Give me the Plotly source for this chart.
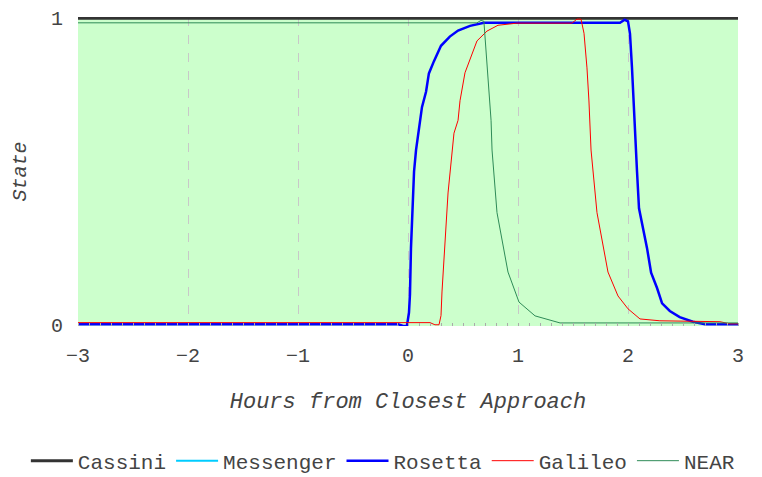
import plotly.graph_objects as go

# Data (hours from closest approach, state)
cassini_x = [-3, 3]
cassini_y = [1.0, 1.0]

messenger_x = [-3, 3]
messenger_y = [-0.008, -0.008]

rosetta_x = [-3, -0.09, -0.045, -0.01, 0.009, 0.018, 0.027, 0.045, 0.055, 0.073, 0.09, 0.109,
             0.127, 0.164, 0.19, 0.236, 0.30, 0.38, 0.455, 0.564, 0.69, 1.927, 1.97, 2.0,
             2.018, 2.036, 2.055, 2.073, 2.082, 2.1, 2.136, 2.173, 2.21, 2.264, 2.31, 2.38,
             2.47, 2.59, 2.7, 3.0]
rosetta_y = [0.002, 0.002, -0.004, -0.004, 0.04, 0.1, 0.25, 0.40, 0.50, 0.57, 0.62, 0.66,
             0.71, 0.76, 0.82, 0.86, 0.91, 0.94, 0.96, 0.975, 0.985, 0.985, 0.995, 0.99,
             0.95, 0.84, 0.70, 0.52, 0.50, 0.38, 0.32, 0.25, 0.17, 0.12, 0.07, 0.045,
             0.025, 0.01, 0.002, 0.002]

galileo_x = [-3, 0.2, 0.245, 0.282, 0.3, 0.309, 0.364, 0.391, 0.418, 0.455, 0.473, 0.518,
             0.627, 0.718, 0.818, 0.991, 1.49, 1.536, 1.573, 1.6, 1.627, 1.645, 1.664, 1.718,
             1.818, 1.909, 2.0, 2.109, 2.29, 2.836, 2.927, 3.0]
galileo_y = [0.007, 0.007, 0.0, 0.0, 0.03, 0.107, 0.43, 0.537, 0.625, 0.667, 0.731, 0.822,
             0.926, 0.958, 0.977, 0.984, 0.984, 0.997, 0.997, 0.951, 0.838, 0.73, 0.57, 0.366,
             0.172, 0.094, 0.052, 0.019, 0.013, 0.01, 0.003, 0.003]

near_x = [-3, 0.627, 0.664, 0.69, 0.755, 0.764, 0.809, 0.909, 1.009, 1.155, 1.382, 3.0]
near_y = [0.985, 0.985, 0.993, 0.99, 0.667, 0.57, 0.366, 0.172, 0.074, 0.029, 0.006, 0.006]

x_ticks = [-3, -2, -1, 0, 1, 2, 3]
y_ticks = [0, 1]

FONT = "Liberation Mono, Courier New, monospace"
FS = 20
TXT = "#444444"

fig = go.Figure()
fig.add_trace(go.Scatter(x=cassini_x, y=cassini_y, mode="lines", name="Cassini",
                         line=dict(color="#333333", width=3), legendrank=1))
fig.add_trace(go.Scatter(x=messenger_x, y=messenger_y, mode="lines", name="Messenger",
                         line=dict(color="#00ccff", width=2), legendrank=2))
fig.add_trace(go.Scatter(x=rosetta_x, y=rosetta_y, mode="lines", name="Rosetta",
                         line=dict(color="#0000ff", width=2.5), legendrank=3))
fig.add_trace(go.Scatter(x=galileo_x, y=galileo_y, mode="lines", name="Galileo",
                         line=dict(color="#ff0000", width=1), legendrank=4))
fig.add_trace(go.Scatter(x=near_x, y=near_y, mode="lines", name="NEAR",
                         line=dict(color="#2e8b57", width=1), legendrank=5))
for tr in fig.data:
    tr.cliponaxis = False

# page body has an 8px default margin, so the figure is sized/offset to compensate
fig.update_layout(
    width=754, height=469,
    margin=dict(l=70, r=24, t=9, b=151, autoexpand=False),
    paper_bgcolor="white",
    plot_bgcolor="#ccffcc",
    font=dict(family=FONT, size=FS, color=TXT),
    showlegend=True,
    legend=dict(orientation="h", x=-0.079, xanchor="left", y=-0.437, yanchor="middle",
                font=dict(family=FONT, size=21, color=TXT),
                traceorder="normal", itemwidth=42, tracegroupgap=0),
)
fig.update_xaxes(
    range=[-3, 3], tickvals=x_ticks, showgrid=True, gridcolor="#c8c8c8",
    griddash="dash", gridwidth=1, zeroline=False, showline=False, automargin=False,
    ticks="", ticklabelstandoff=15, tickfont=dict(family=FONT, size=FS, color=TXT),
    title=dict(text="<i>Hours from Closest Approach</i>", font=dict(family=FONT, size=22, color=TXT), standoff=25),
    minor=dict(dtick=0.1, ticks="inside", ticklen=3, tickcolor="#aaaaaa", showgrid=False),
)
fig.update_yaxes(
    range=[-0.004, 1.004], tickvals=y_ticks, showgrid=False, zeroline=False, automargin=False,
    showline=False, ticks="", ticklabelstandoff=14, tickfont=dict(family=FONT, size=FS, color=TXT),
    title=dict(text="<i>State</i>", font=dict(family=FONT, size=FS, color=TXT), standoff=18),
)

fig.write_html("out.html")
